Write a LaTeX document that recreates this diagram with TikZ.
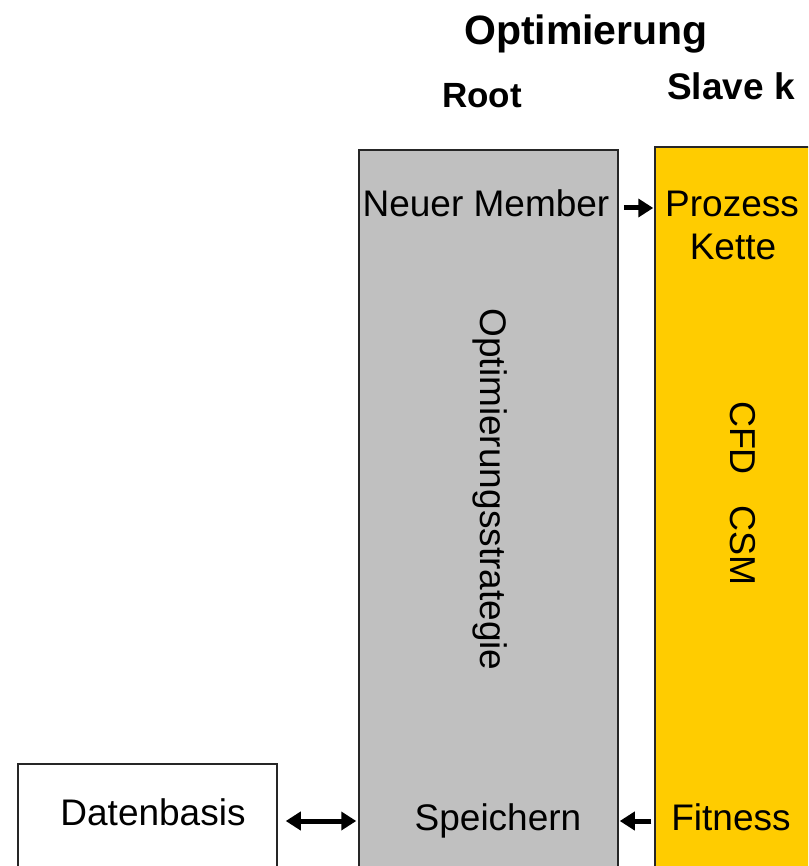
\documentclass[tikz,border=0pt]{standalone}
\usepackage{fontspec}
\setmainfont{Liberation Sans}
\usetikzlibrary{arrows.meta}
\definecolor{rootgray}{HTML}{C0C0C0}
\definecolor{slaveorange}{HTML}{FFCC00}
\tikzset{
  panel/.style={draw=black!85, line width=1.5pt, rectangle, inner sep=0pt},
  body/.style={inner sep=0pt, anchor=base, font=\fontsize{37}{43}\selectfont},
  side/.style={inner sep=0pt, rotate=-90, font=\fontsize{37}{43}\selectfont},
  head/.style={inner sep=0pt, anchor=base, font=\bfseries\fontsize{#1}{#1}\selectfont},
  flow/.style={line width=5pt, -{Triangle[length=15pt,width=18pt]}},
  bothway/.style={line width=5pt, {Triangle[length=15pt,width=18pt]}-{Triangle[length=15pt,width=18pt]}}
}
\begin{document}
\begin{tikzpicture}[x=1pt,y=-1pt]
  \useasboundingbox (0,0) rectangle (808,866);
  \clip (0,0) rectangle (808,866);

  % titles
  \node[head=41] (title) at (586,45) {Optimierung};
  \node[head=35] (roothead) at (482,108) {Root};
  \node[head=37] (slavehead) at (731,100) {Slave k};

  % panels running off the lower edge
  \node[panel, fill=rootgray, minimum width=259pt, minimum height=760pt] (root) at (488.5,530) {};
  \node[panel, fill=slaveorange, minimum width=260pt, minimum height=763pt] (slave) at (785,528.5) {};
  \node[panel, fill=white, minimum width=259pt, minimum height=140pt] (db) at (147.5,834) {};

  % texts in the root panel
  \node[body] (member) at (486,217) {Neuer Member};
  \node[side] (strategy) at (490,489.5) {Optimierungsstrategie};
  \node[body] (store) at (498,830) {Speichern};

  % texts in the slave panel
  \node[body] (chain1) at (732,217) {Prozess};
  \node[body] (chain2) at (733,259) {Kette};
  \node[side, font=\fontsize{36}{40}\selectfont] (solver) at (742.5,493.5) {CFD\hspace{31pt}CSM};
  \node[body] (fitness) at (731,830) {Fitness};

  % data base
  \node[body] (dbtext) at (153,825) {Datenbasis};

  % connectors
  \coordinate (upper) at (0,208);
  \coordinate (lower) at (0,821);
  \draw[flow, shorten <=5pt, shorten >=1pt] (root.east |- upper) -- (slave.west |- upper);
  \draw[flow, shorten <=3pt, shorten >=1pt] (slave.west |- lower) -- (root.east |- lower);
  \draw[bothway, shorten <=8pt, shorten >=2pt] (db.east |- lower) -- (root.west |- lower);
\end{tikzpicture}
\end{document}
